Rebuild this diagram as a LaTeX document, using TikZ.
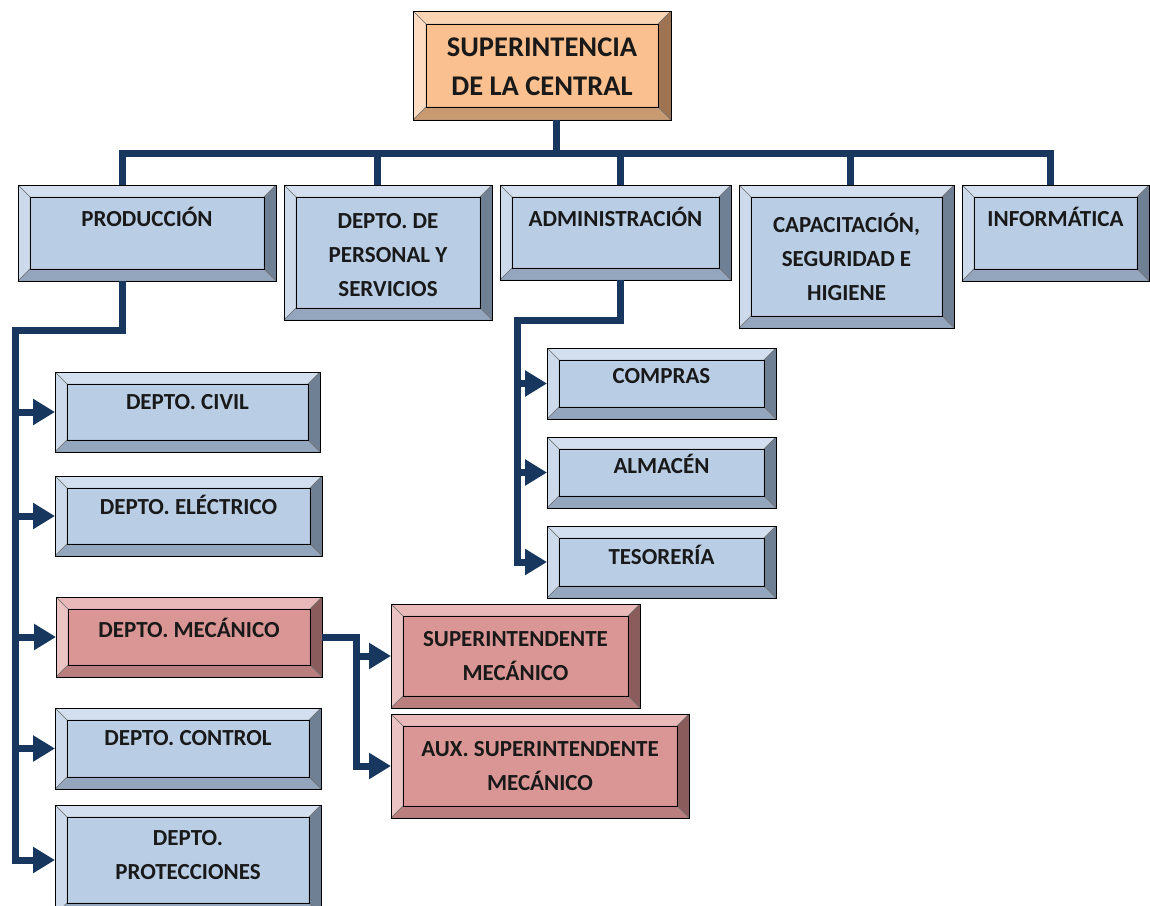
\documentclass[tikz,border=0pt]{standalone}
\usepackage{fontspec}
\setmainfont{Carlito}
\usetikzlibrary{arrows.meta}
\definecolor{cBf}{HTML}{B9CDE5}
\definecolor{cBt}{HTML}{D3DFEE}
\definecolor{cBl}{HTML}{CCDAEB}
\definecolor{cBr}{HTML}{6F8095}
\definecolor{cBb}{HTML}{94A6BE}
\definecolor{cPf}{HTML}{D99694}
\definecolor{cPt}{HTML}{E8B9B8}
\definecolor{cPl}{HTML}{EBC3C2}
\definecolor{cPr}{HTML}{8A5D5C}
\definecolor{cPb}{HTML}{B97E7D}
\definecolor{cOf}{HTML}{FAC08F}
\definecolor{cOt}{HTML}{FBD4B4}
\definecolor{cOl}{HTML}{FDDCC2}
\definecolor{cOr}{HTML}{9E7352}
\definecolor{cOb}{HTML}{C89A72}
\definecolor{navy}{HTML}{17375E}
\tikzset{
  bev/.style n args={6}{draw=black, line width=0.9pt, fill=#1, inner sep=0pt, outer sep=0pt,
    path picture={
      \fill[#2,draw=black!55,line width=0.4pt] (path picture bounding box.north west) -- (path picture bounding box.north east) -- ([shift={(-#6,-#6)}]path picture bounding box.north east) -- ([shift={(#6,-#6)}]path picture bounding box.north west) -- cycle;
      \fill[#3,draw=black!55,line width=0.4pt] (path picture bounding box.north west) -- ([shift={(#6,-#6)}]path picture bounding box.north west) -- ([shift={(#6,#6)}]path picture bounding box.south west) -- (path picture bounding box.south west) -- cycle;
      \fill[#4,draw=black!55,line width=0.4pt] (path picture bounding box.north east) -- (path picture bounding box.south east) -- ([shift={(-#6,#6)}]path picture bounding box.south east) -- ([shift={(-#6,-#6)}]path picture bounding box.north east) -- cycle;
      \fill[#5,draw=black!55,line width=0.4pt] (path picture bounding box.south west) -- (path picture bounding box.south east) -- ([shift={(-#6,#6)}]path picture bounding box.south east) -- ([shift={(#6,#6)}]path picture bounding box.south west) -- cycle;
      \draw[black,line width=0.9pt] ([shift={(#6,-#6)}]path picture bounding box.north west) rectangle ([shift={(-#6,#6)}]path picture bounding box.south east);
    }},
  bluebox/.style={bev={cBf}{cBt}{cBl}{cBr}{cBb}{12pt}},
  pinkbox/.style={bev={cPf}{cPt}{cPl}{cPr}{cPb}{12pt}},
  orangebox/.style={bev={cOf}{cOt}{cOl}{cOr}{cOb}{13pt}},
  txt/.style={font=\fontsize{23}{34}\selectfont\bfseries, align=center, text=black!90, inner sep=0pt},
  bigtxt/.style={font=\fontsize{28.5}{39}\selectfont\bfseries, align=center, text=black!90, inner sep=0pt},
  conn/.style={draw=navy, line width=7pt, line join=miter},
  arr/.style={-{Triangle[length=22pt,width=25pt]}}
}
\newcommand\bx[8]{%
  \node[#6, anchor=north west, minimum width={(#4-#2)*1pt}, minimum height={(#5-#3)*1pt}] (#1) at (#2,#3) {};
  \node[txt] at ({(#2+#4)/2},#7) {#8};}
\begin{document}
\begin{tikzpicture}[x=1pt,y=-1pt]
\useasboundingbox (0,0) rectangle (1150,905);
% top
\node[orangebox, anchor=north west, minimum width=258pt, minimum height=109pt] (sup) at (413,11) {};
\node[bigtxt] at (542,67) {SUPERINTENCIA\\DE LA CENTRAL};
% level 1
\bx{prod}{18}{185}{276}{281}{bluebox}{217}{PRODUCCIÓN}
\bx{pers}{284}{185}{492}{320}{bluebox}{255}{DEPTO. DE\\PERSONAL Y\\SERVICIOS}
\bx{adm}{500}{185}{731}{280}{bluebox}{217}{ADMINISTRACIÓN}
\bx{cap}{739}{185}{954}{328}{bluebox}{257}{CAPACITACIÓN,\\SEGURIDAD E\\HIGIENE}
\bx{inf}{962}{185}{1149}{281}{bluebox}{217}{INFORMÁTICA}
% production children
\bx{civ}{55}{372}{320}{452}{bluebox}{402}{DEPTO. CIVIL}
\bx{ele}{55}{476}{322}{556}{bluebox}{505}{DEPTO. ELÉCTRICO}
\bx{mec}{56}{597}{322}{677}{pinkbox}{628}{DEPTO. MECÁNICO}
\bx{ctl}{55}{708}{321}{789}{bluebox}{738}{DEPTO. CONTROL}
\bx{pro}{55}{805}{321}{915}{bluebox}{855}{DEPTO.\\PROTECCIONES}
% admin children
\bx{com}{547}{348}{776}{419}{bluebox}{376}{COMPRAS}
\bx{alm}{547}{437}{776}{508}{bluebox}{464}{ALMACÉN}
\bx{tes}{547}{526}{776}{598}{bluebox}{555}{TESORERÍA}
% mecanico children
\bx{smec}{391}{604}{640}{708}{pinkbox}{656}{SUPERINTENDENTE\\MECÁNICO}
\bx{aux}{391}{714}{689}{818}{pinkbox}{766}{AUX. SUPERINTENDENTE\\MECÁNICO}
% coordinates
\coordinate (d0) at (556,153);
\coordinate (dP) at (122,153);
\coordinate (dS) at (377,153);
\coordinate (dA) at (620,153);
\coordinate (dC) at (850,153);
\coordinate (dI) at (1050,153);
\coordinate (pA) at (122,330);
\coordinate (pB) at (15,330);
\coordinate (aA) at (620,320);
\coordinate (aB) at (517,320);
\coordinate (m1) at (356,0);
% connectors
\draw[conn] (sup.south -| d0) -- (d0);
\draw[conn] (prod.north -| dP) -- (dP) -- (dI) -- (inf.north -| dI);
\draw[conn] (dS) -- (pers.north -| dS);
\draw[conn] (dA) -- (adm.north -| dA);
\draw[conn] (dC) -- (cap.north -| dC);
\draw[conn,arr] (prod.south -| pA) -- (pA) -- (pB) -- (pro.west -| pB) -- (pro.west);
\draw[conn,arr] (civ.west -| pB) -- (civ.west);
\draw[conn,arr] (ele.west -| pB) -- (ele.west);
\draw[conn,arr] (mec.west -| pB) -- (mec.west);
\draw[conn,arr] (ctl.west -| pB) -- (ctl.west);
\draw[conn,arr] (adm.south -| aA) -- (aA) -- (aB) -- (tes.west -| aB) -- (tes.west);
\draw[conn,arr] (com.west -| aB) -- (com.west);
\draw[conn,arr] (alm.west -| aB) -- (alm.west);
\draw[conn,arr] (mec.east) -- (mec.east -| m1) -- (aux.west -| m1) -- (aux.west);
\draw[conn,arr] (smec.west -| m1) -- (smec.west);
\end{tikzpicture}
\end{document}
